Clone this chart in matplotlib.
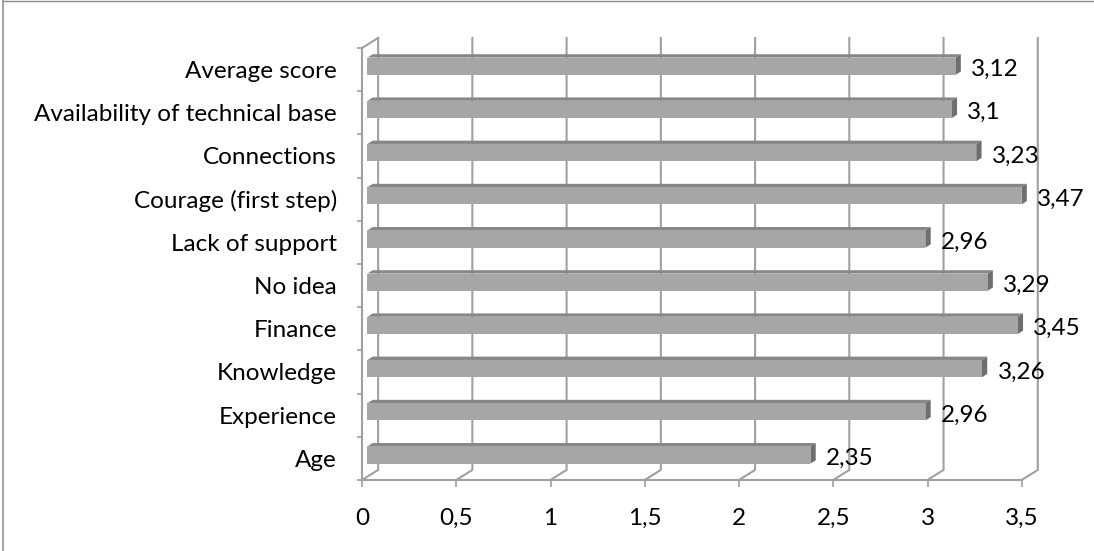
import numpy as np
import matplotlib.pyplot as plt
from matplotlib.patches import Polygon
from matplotlib.lines import Line2D
from matplotlib.transforms import IdentityTransform

categories = ["Age", "Experience", "Knowledge", "Finance", "No idea",
              "Lack of support", "Courage (first step)", "Connections",
              "Availability of technical base", "Average score"]
scores = [2.35, 2.96, 3.26, 3.45, 3.29, 2.96, 3.47, 3.23, 3.1, 3.12]
x_ticks = [0, 0.5, 1, 1.5, 2, 2.5, 3, 3.5]

plt.rcParams['font.family'] = ['Lato', 'DejaVu Sans']
plt.rcParams['font.size'] = 17.5

GRID = '#a0a0a0'
depth = np.array([16.0, 10.0])  # shift (px) from the front plane to the back wall
bar_h = 0.4
f0, f1 = 1 / 3, 2 / 3  # bars sit in the middle third of the depth

fig = plt.figure(figsize=(10.94, 5.51), dpi=100)
ax = fig.add_axes([0.331, 0.129, 0.603, 0.784])
ax.set_xlim(0, 3.5)
ax.set_ylim(-0.5, len(categories) - 0.5)
pix = IdentityTransform()


def proj(x, y, d):
    # point on the front plane pushed back by fraction d of the depth
    return ax.transData.transform((x, y)) + d * depth


def seg(points, **kw):
    xs, ys = zip(*points)
    ax.add_line(Line2D(xs, ys, transform=pix, clip_on=False, **kw))


y0, y1 = ax.get_ylim()
for t in x_ticks:
    # floor diagonal and gridline on the back wall
    seg([proj(t, y0, 0), proj(t, y0, 1), proj(t, y1, 1)], color=GRID, lw=1.5, zorder=1)
# top edge of the side wall
seg([proj(0, y1, 0), proj(0, y1, 1)], color=GRID, lw=1.5, zorder=1)

for i, v in enumerate(scores):
    lo, hi = i - bar_h / 2, i + bar_h / 2
    front = [proj(0, lo, f0), proj(v, lo, f0), proj(v, hi, f0), proj(0, hi, f0)]
    top = [proj(0, hi, f0), proj(v, hi, f0), proj(v, hi, f1), proj(0, hi, f1)]
    side = [proj(v, lo, f0), proj(v, lo, f1), proj(v, hi, f1), proj(v, hi, f0)]
    for poly, c in ((top, '#878787'), (side, '#6e6e6e'), (front, '#a6a6a6')):
        ax.add_patch(Polygon(poly, closed=True, transform=pix, facecolor=c,
                             edgecolor='none', clip_on=False, zorder=3))
    ax.annotate(f"{v:g}".replace('.', ','), xy=(v, i), xytext=(21, 0),
                textcoords='offset pixels', va='center', ha='left')

ax.set_xticks(x_ticks, [f"{t:g}".replace('.', ',') for t in x_ticks])
ax.set_yticks(range(len(categories)), categories)
ax.set_yticks(np.arange(-0.5, len(categories)), minor=True)
ax.tick_params(axis='y', which='major', length=0, pad=18)
ax.tick_params(axis='y', which='minor', length=3.5, width=1.2, color=GRID)
ax.tick_params(axis='x', which='major', length=5, width=1.2, color=GRID, pad=15)
ax.tick_params(axis='x', which='minor', length=0)

for s in ('top', 'right'):
    ax.spines[s].set_visible(False)
for s in ('left', 'bottom'):
    ax.spines[s].set_color(GRID)
    ax.spines[s].set_linewidth(1.5)
ax.patch.set_visible(False)

# outer chart frame
fig.add_artist(Line2D([0.003, 0.003], [0, 0.998], transform=fig.transFigure, color='#a6a6a6', lw=1.5))
fig.add_artist(Line2D([0.003, 1], [0.998, 0.998], transform=fig.transFigure, color='#8c8c8c', lw=1))

fig.savefig('out.png', dpi=100)
